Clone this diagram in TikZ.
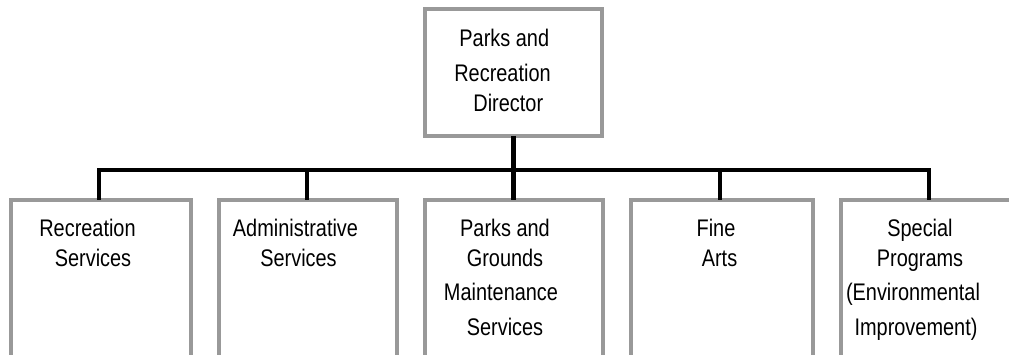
\documentclass[tikz,border=0pt]{standalone}
\usepackage{fontspec}
\setmainfont{Liberation Sans}[FakeStretch=0.83]
\definecolor{boxgray}{RGB}{153,153,153}
\begin{document}
\begin{tikzpicture}[x=1pt,y=-1pt,
  unitbox/.style={draw=boxgray, line width=4pt, inner sep=0pt, outer sep=0pt,
                  anchor=north west, minimum height=#1},
  unitbox/.default=250pt,
  wire/.style={draw=black, line width=4.3pt},
  lbl/.style={anchor=base, inner sep=0pt, font=\fontsize{24}{28}\selectfont}]
  \useasboundingbox (0,0) rectangle (1009,355);
  \clip (0,0) rectangle (1009,355);

  % director box
  \node[unitbox=126.5pt, minimum width=177.5pt] (dir) at (424.7,9.5) {};
  % division boxes (they continue below the frame)
  \node[unitbox, minimum width=180pt] (b1) at (11,200) {};
  \node[unitbox, minimum width=178pt] (b2) at (219,200) {};
  \node[unitbox, minimum width=178pt] (b3) at (425,200) {};
  \node[unitbox, minimum width=182pt] (b4) at (631,200) {};
  \node[unitbox, minimum width=180pt] (b5) at (841,200) {};

  % connectors
  \coordinate (bus) at (513.8,170);
  \draw[wire] (dir.south) -- (dir.south |- b3.north);
  \draw[wire] ([xshift=-2pt]b1.north) |- (bus) -| ([xshift=-2pt]b5.north);
  \draw[wire] ([xshift=-1pt]b2.north) -- ([xshift=-1pt]b2.north |- bus);
  \draw[wire] ([xshift=-2pt]b4.north) -- ([xshift=-2pt]b4.north |- bus);

  % labels
  \node[lbl] (d1) at (504.3,46.7) {Parks and};
  \node[lbl] (d2) at (502.5,81.7) {Recreation};
  \node[lbl] (d3) at (508.3,111.7) {Director};

  \node[lbl] (r1) at (87.5,237) {Recreation};
  \node[lbl] (r2) at (93,267) {Services};

  \node[lbl] (a1) at (295.5,237) {Administrative};
  \node[lbl] (a2) at (298.5,267) {Services};

  \node[lbl] (p1) at (505,237) {Parks and};
  \node[lbl] (p2) at (505,267) {Grounds};
  \node[lbl] (p3) at (501,300.7) {Maintenance};
  \node[lbl] (p4) at (505,335) {Services};

  \node[lbl] (f1) at (716,237) {Fine};
  \node[lbl] (f2) at (719.5,267) {Arts};

  \node[lbl] (s1) at (920,237) {Special};
  \node[lbl] (s2) at (920,267) {Programs};
  \node[lbl] (s3) at (913,300.7) {(Environmental};
  \node[lbl] (s4) at (916,335) {Improvement)};
\end{tikzpicture}
\end{document}
